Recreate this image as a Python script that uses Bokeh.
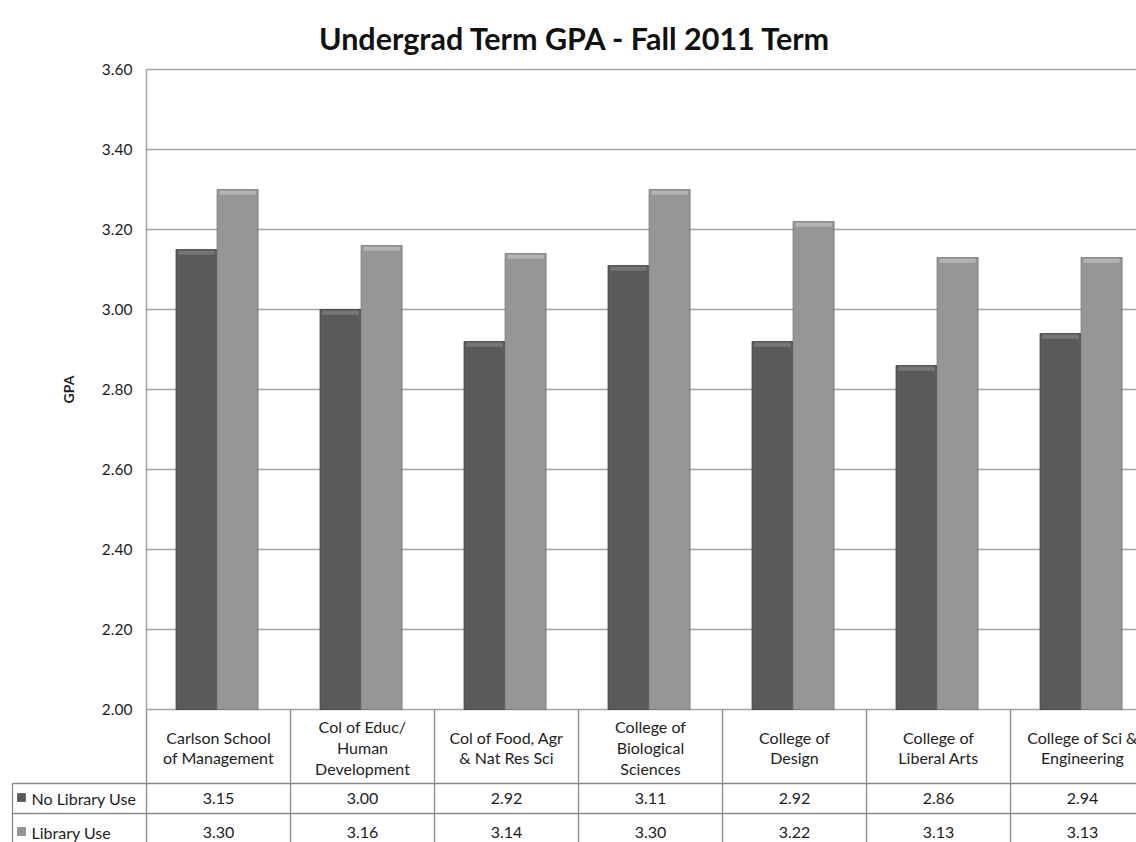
import numpy as np
from bokeh.plotting import figure
from bokeh.models import Range1d, ColumnDataSource
from bokeh.core.properties import value
from bokeh.embed import file_html
from bokeh.resources import INLINE

# ---------------- data ----------------
categories = [
    "Carlson School\nof Management",
    "Col of Educ/\nHuman\nDevelopment",
    "Col of Food, Agr\n& Nat Res Sci",
    "College of\nBiological\nSciences",
    "College of\nDesign",
    "College of\nLiberal Arts",
    "College of Sci &\nEngineering",
]
no_library_use = [3.15, 3.00, 2.92, 3.11, 2.92, 2.86, 2.94]
library_use = [3.30, 3.16, 3.14, 3.30, 3.22, 3.13, 3.13]
series_names = ["No Library Use", "Library Use"]
y_ticks = [2.0, 2.2, 2.4, 2.6, 2.8, 3.0, 3.2, 3.4, 3.6]
title_text = "Undergrad Term GPA - Fall 2011 Term"
y_label = "GPA"

FONT = "Lato"
DARK = "#5a5a5a"
LIGHT = "#969696"
GRID = "#a3a3a3"
TL = "#8a8a8a"
TXT = "#1e1e1e"

# layout (pixels)
W, H = 1136, 842
PX = 144.0            # pixels per category
PY = 400.0            # pixels per GPA unit
LEFT = 146            # chart-area left, from canvas left
TOP_PAD = 69          # canvas top to GPA 3.60
Y0, Y1 = y_ticks[0], y_ticks[-1]
chart_h = (Y1 - Y0) * PY
table_h = H - TOP_PAD - chart_h

def ty(px_below):      # table row positions (pixels below the 2.00 line) -> data
    return Y0 - px_below / PY

def tx(px_from_chart_left):
    return px_from_chart_left / PX

n = len(categories)
idx = np.arange(n)
center = idx + 0.49
bw = 0.285

p = figure(width=W, height=H,
           x_range=Range1d(-LEFT / PX, (W - LEFT) / PX),
           y_range=Range1d(Y0 - table_h / PY, Y1 + TOP_PAD / PY),
           output_backend="svg", toolbar_location=None, min_border=0,
           x_axis_location=None, y_axis_location=None)
p.outline_line_color = None
p.grid.grid_line_color = None

x_end = (W - LEFT) / PX

# gridlines and value axis
p.segment(x0=[0] * len(y_ticks), y0=y_ticks, x1=[x_end] * len(y_ticks), y1=y_ticks,
          line_color=GRID, line_width=1.3)
p.segment(x0=[0], y0=[Y0], x1=[0], y1=[Y1], line_color=GRID, line_width=1.5)
p.text(x=[tx(-14)] * len(y_ticks), y=y_ticks, text=[f"{t:.2f}" for t in y_ticks],
       text_align="right", text_baseline="middle", text_font=value(FONT),
       text_font_size="15.5px", text_color=TXT)
p.text(x=[tx(68 - 146)], y=[(Y0 + Y1) / 2], text=[y_label], angle=np.pi / 2,
       text_align="center", text_baseline="middle", text_font=value(FONT),
       text_font_size="14px", text_font_style="bold", text_color=TXT)

# bars
src = ColumnDataSource(dict(
    x_dark=center - bw / 2, x_light=center + bw / 2,
    dark=no_library_use, light=library_use,
    dark_hi=[v - 0.003 for v in no_library_use], dark_lo=[v - 0.013 for v in no_library_use],
    light_hi=[v - 0.003 for v in library_use], light_lo=[v - 0.013 for v in library_use],
))
p.vbar(x="x_dark", top="dark", bottom=Y0, width=bw, source=src,
       fill_color=DARK, line_color="#444444", line_width=0.8)
p.vbar(x="x_light", top="light", bottom=Y0, width=bw, source=src,
       fill_color=LIGHT, line_color="#777777", line_width=0.8)
p.vbar(x="x_dark", top="dark_hi", bottom="dark_lo", width=bw * 0.88, source=src,
       fill_color="#767676", line_color=None)
p.vbar(x="x_light", top="light_hi", bottom="light_lo", width=bw * 0.88, source=src,
       fill_color="#b4b4b4", line_color=None)

# title
p.text(x=[tx(575 - 146)], y=[Y1 + 32 / PY], text=[title_text], text_align="center",
       text_baseline="middle", text_font=value(FONT), text_font_size="30.5px",
       text_font_style="bold", text_color="#111111")

# ---------------- data table ----------------
header_h, row1_b = 74, 104
left_x = tx(12 - 146)
bottom = ty(table_h)
p.segment(x0=[left_x, left_x], y0=[ty(header_h), ty(row1_b)], x1=[x_end + 1] * 2,
          y1=[ty(header_h), ty(row1_b)], line_color=TL, line_width=1.3)
vx = list(range(n + 1))
p.segment(x0=vx, y0=[Y0] * len(vx), x1=vx, y1=[bottom] * len(vx), line_color=TL, line_width=1.3)
p.segment(x0=[left_x], y0=[ty(header_h)], x1=[left_x], y1=[bottom], line_color=TL, line_width=1.3)

p.text(x=idx + 0.5, y=[ty(header_h / 2 + 1)] * n, text=categories, text_align="center",
       text_baseline="middle", text_font=value(FONT), text_font_size="16px",
       text_color=TXT, text_line_height=1.1)

r1 = ty((header_h + row1_b) / 2)
r2 = ty(row1_b + 19)
p.text(x=idx + 0.5, y=[r1] * n, text=[f"{v:.2f}" for v in no_library_use], text_align="center",
       text_baseline="middle", text_font=value(FONT), text_font_size="16px", text_color=TXT)
p.text(x=idx + 0.5, y=[r2] * n, text=[f"{v:.2f}" for v in library_use], text_align="center",
       text_baseline="middle", text_font=value(FONT), text_font_size="16px", text_color=TXT)

p.text(x=[tx(31 - 146)] * 2, y=[r1, r2], text=series_names, text_align="left", text_baseline="middle",
       text_font=value(FONT), text_font_size="16px", text_color=TXT)
p.scatter(x=[tx(21 - 146)] * 2, y=[r1 + 1 / PY, r2 + 1 / PY], marker="square", size=8,
          fill_color=[DARK, LIGHT], line_color=["#3e3e3e", "#6e6e6e"], line_width=0.6)

open("out.html", "w").write(file_html(p, INLINE))
